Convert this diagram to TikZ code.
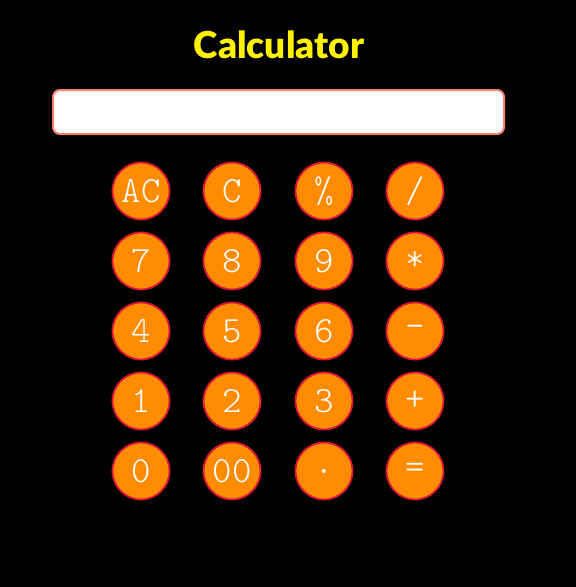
\documentclass[tikz,border=0pt]{standalone}
\usepackage{fontspec}
\setmainfont{Lato}[BoldFont=Lato Black]
\newfontfamily\keyfont{Latin Modern Mono Light}
\definecolor{btnfill}{HTML}{FF8C00}
\definecolor{btnline}{HTML}{DC143C}
\definecolor{screenline}{HTML}{FA8072}
\begin{document}
\begin{tikzpicture}[x=1pt, y=-1pt,
    key/.style={circle, draw=btnline, line width=1.8pt, fill=btnfill,
        minimum size=57pt, inner sep=0pt, text=white,
        font=\fontsize{37}{37}\selectfont\keyfont},
    title/.style={text=yellow, font=\fontsize{37}{37}\selectfont\bfseries}]
            \fill[black] (0, 0) rectangle (576, 587);
            \useasboundingbox (0, 0) rectangle (576, 587);

            \node[title] (title) at (279, 45) {Calculator};
            \draw[screenline, line width=2pt, fill=white, rounded corners=7pt]
                (53, 90) rectangle (504, 134);

            \node[key] (ac) at (141, 191) {AC};
            \node[key] (c) at (232, 191) {C};
            \node[key] (pct) at (324, 191) {\%};
            \node[key] (div) at (415, 191) {/};

            \node[key] (seven) at (141, 261) {7};
            \node[key] (eight) at (232, 261) {8};
            \node[key] (nine) at (324, 261) {9};
            \node[key] (mul) at (415, 261) {*};

            \node[key] (four) at (141, 331) {4};
            \node[key] (five) at (232, 331) {5};
            \node[key] (six) at (324, 331) {6};
            \node[key] (sub) at (415, 331) {-};

            \node[key] (one) at (141, 401) {1};
            \node[key] (two) at (232, 401) {2};
            \node[key] (three) at (324, 401) {3};
            \node[key] (add) at (415, 401) {+};

            \node[key] (zero) at (141, 471) {0};
            \node[key] (dzero) at (232, 471) {00};
            \node[key] (dot) at (324, 471) {.};
            \node[key] (eq) at (415, 471) {=};
        \end{tikzpicture}
\end{document}
